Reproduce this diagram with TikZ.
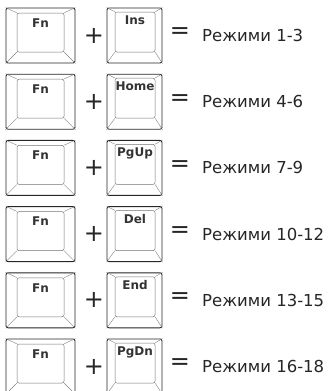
\documentclass[tikz,border=0pt]{standalone}
\usepackage{fontspec}
\setmainfont{DejaVu Sans}
\usetikzlibrary{positioning}

\begin{document}
\begin{tikzpicture}[
x=1pt, y=1pt,
tecla/.style={
rectangle,
draw=black!85,
line width=0.9pt,
rounded corners=2pt,
inner sep=0pt,
minimum height=55pt
},
face/.style={
rectangle,
draw=black!55,
line width=0.5pt,
rounded corners=2pt,
inner sep=0pt
},
chanfro/.style={draw=black!50, line width=0.4pt},
rotulo/.style={font=\bfseries\fontsize{12}{12}\selectfont, inner sep=0pt, text=black!80},
sinal/.style={font=\fontsize{24}{24}\selectfont, inner sep=0pt, text=black!85},
modo/.style={font=\fontsize{16.5}{18}\selectfont, anchor=west, inner sep=0pt, text=black!85}
]

\useasboundingbox (0,0) rectangle (331,-391);

\foreach \tec/\faixa [count=\i from 0] in {Ins/1-3, Home/4-6, PgUp/7-9, Del/10-12, End/13-15, PgDn/16-18} {
  \pgfmathsetmacro{\yy}{-35.5-66.2*\i}

  % tecla Fn
  \node[tecla, minimum width=69pt] (fn\i) at (40.5,\yy) {};
  \node[face, minimum width=47pt, minimum height=39pt] (fnf\i) at (40.5,\yy+3) {};
  \draw[chanfro] (fn\i.north west) -- (fnf\i.north west);
  \draw[chanfro] (fn\i.north east) -- (fnf\i.north east);
  \draw[chanfro] (fn\i.south west) -- (fnf\i.south west);
  \draw[chanfro] (fn\i.south east) -- (fnf\i.south east);
  \node[rotulo, below=5.5pt of fnf\i.north] (fnr\i) {Fn};

  % segunda tecla
  \node[tecla, minimum width=55pt] (k\i) at (134.5,\yy) {};
  \node[face, minimum width=40pt, minimum height=40pt] (kf\i) at (135,\yy+3.5) {};
  \draw[chanfro] (k\i.north west) -- (kf\i.north west);
  \draw[chanfro] (k\i.north east) -- (kf\i.north east);
  \draw[chanfro] (k\i.south west) -- (kf\i.south west);
  \draw[chanfro] (k\i.south east) -- (kf\i.south east);
  \node[rotulo, below=3.5pt of kf\i.north] (kr\i) {\tec};

  \node[sinal] (mais\i) at (94,\yy) {+};
  \node[sinal] (igual\i) at (180,\yy+2) {=};
  \node[modo] (modo\i) at (202,\yy) {Режими \faixa};
}

\end{tikzpicture}
\end{document}
